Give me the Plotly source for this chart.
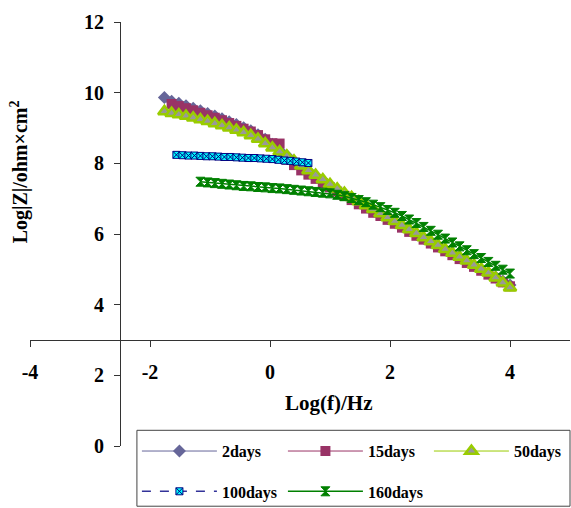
import plotly.graph_objects as go

# Bode modulus data: log frequency (Hz) vs log|Z| (ohm cm^2) after immersion
x_2d = [-1.76, -1.64, -1.52, -1.40, -1.28, -1.16, -1.04, -0.92, -0.80, -0.68,
        -0.56, -0.44, -0.32, -0.20, -0.08, 0.04, 0.16, 0.28, 0.40, 0.52,
        0.64, 0.76, 0.88, 1.00, 1.12, 1.24, 1.36, 1.48, 1.60, 1.72,
        1.84, 1.96, 2.08, 2.20, 2.32, 2.44, 2.56, 2.68, 2.80, 2.92,
        3.04, 3.16, 3.28, 3.40, 3.52, 3.64, 3.76, 3.88, 4.00]
y_2d = [9.86, 9.76, 9.70, 9.63, 9.56, 9.49, 9.41, 9.34, 9.26, 9.18,
        9.10, 9.01, 8.92, 8.81, 8.68, 8.54, 8.36, 8.22, 8.06, 7.92,
        7.78, 7.64, 7.51, 7.38, 7.24, 7.12, 7.00, 6.89, 6.78, 6.66,
        6.55, 6.44, 6.33, 6.22, 6.10, 5.99, 5.88, 5.77, 5.66, 5.55,
        5.44, 5.33, 5.22, 5.11, 5.00, 4.89, 4.78, 4.67, 4.56]

x_15d = [-1.64, -1.52, -1.40, -1.28, -1.16, -1.04, -0.92, -0.80, -0.68,
         -0.56, -0.44, -0.32, -0.20, -0.08, 0.04, 0.16, 0.28, 0.40, 0.52,
         0.64, 0.76, 0.88, 1.00, 1.12, 1.24, 1.36, 1.48, 1.60, 1.72,
         1.84, 1.96, 2.08, 2.20, 2.32, 2.44, 2.56, 2.68, 2.80, 2.92,
         3.04, 3.16, 3.28, 3.40, 3.52, 3.64, 3.76, 3.88, 4.00]
y_15d = [9.68, 9.62, 9.56, 9.50, 9.43, 9.36, 9.29, 9.22, 9.14,
         9.06, 8.98, 8.90, 8.80, 8.68, 8.57, 8.56, 8.10, 7.95, 7.80,
         7.68, 7.56, 7.44, 7.32, 7.20, 7.08, 6.96, 6.84, 6.72, 6.60,
         6.51, 6.40, 6.29, 6.18, 6.06, 5.95, 5.84, 5.73, 5.62, 5.51,
         5.40, 5.29, 5.18, 5.07, 4.96, 4.85, 4.74, 4.63, 4.52]

x_50d = [-1.76, -1.64, -1.52, -1.40, -1.28, -1.16, -1.04, -0.92, -0.80, -0.68,
         -0.56, -0.44, -0.32, -0.20, -0.08, 0.04, 0.16, 0.28, 0.40, 0.52,
         0.64, 0.76, 0.88, 1.00, 1.12, 1.24, 1.36, 1.48, 1.60, 1.72,
         1.84, 1.96, 2.08, 2.20, 2.32, 2.44, 2.56, 2.68, 2.80, 2.92,
         3.04, 3.16, 3.28, 3.40, 3.52, 3.64, 3.76, 3.88, 4.00]
y_50d = [9.47, 9.42, 9.38, 9.34, 9.29, 9.24, 9.19, 9.13, 9.07, 9.01,
         8.94, 8.87, 8.79, 8.69, 8.56, 8.44, 8.33, 8.21, 8.07, 7.93,
         7.80, 7.67, 7.54, 7.41, 7.28, 7.16, 7.04, 6.92, 6.81, 6.70,
         6.58, 6.47, 6.36, 6.25, 6.13, 6.02, 5.90, 5.79, 5.68, 5.57,
         5.46, 5.35, 5.24, 5.12, 5.01, 4.90, 4.76, 4.62, 4.48]

x_100d = [-1.56, -1.46, -1.36, -1.26, -1.16, -1.06, -0.96, -0.86, -0.76, -0.66,
          -0.56, -0.46, -0.36, -0.26, -0.16, -0.06, 0.04, 0.14, 0.24, 0.34,
          0.44, 0.54, 0.64]
y_100d = [8.24, 8.23, 8.22, 8.22, 8.21, 8.20, 8.20, 8.19, 8.18, 8.18,
          8.17, 8.16, 8.15, 8.15, 8.14, 8.13, 8.12, 8.10, 8.08, 8.07,
          8.05, 8.03, 8.01]

x_160d = [-1.16, -1.04, -0.92, -0.80, -0.68, -0.56, -0.44, -0.32, -0.20, -0.08,
          0.04, 0.16, 0.28, 0.40, 0.52, 0.64, 0.76, 0.88, 1.00, 1.12,
          1.24, 1.36, 1.48, 1.60, 1.72, 1.84, 1.96, 2.08, 2.20, 2.32,
          2.44, 2.56, 2.68, 2.80, 2.92, 3.04, 3.16, 3.28, 3.40, 3.52,
          3.64, 3.76, 3.88, 4.00]
y_160d = [7.48, 7.46, 7.44, 7.42, 7.40, 7.38, 7.36, 7.35, 7.33, 7.32,
          7.30, 7.29, 7.27, 7.25, 7.23, 7.21, 7.19, 7.17, 7.15, 7.11,
          7.07, 7.02, 6.96, 6.90, 6.83, 6.76, 6.68, 6.60, 6.51, 6.41,
          6.31, 6.20, 6.09, 5.98, 5.87, 5.76, 5.65, 5.54, 5.43, 5.32,
          5.21, 5.10, 4.99, 4.88]

x_ticks = [-4, -2, 0, 2, 4]
x_tick_labels = ["-4", "-2", "0", "2", "4"]
y_ticks = [0, 2, 4, 6, 8, 10, 12]
y_tick_labels = ["0", "2", "4", "6", "8", "10", "12"]

SERIF = "Liberation Serif, Times New Roman, serif"
AXIS_COLOR = "#333333"

X_RANGE = [-4, 5]
Y_RANGE = [0, 12]
X_CROSS = 3.0    # x axis crosses the y axis at log|Z| = 3
Y_CROSS = -2.5   # y axis crosses the x axis at log f = -2.5

series = [
    dict(name="2days", x=x_2d, y=y_2d, legend="legend",
         line=dict(color="#666699", width=1),
         marker=dict(symbol="diamond", size=10, color="#666699")),
    dict(name="15days", x=x_15d, y=y_15d, legend="legend",
         line=dict(color="#993366", width=1),
         marker=dict(symbol="square", size=10, color="#993366")),
    dict(name="50days", x=x_50d, y=y_50d, legend="legend",
         line=dict(color="#99CC00", width=1),
         marker=dict(symbol="triangle-up", size=11, color="#999999",
                     line=dict(color="#99CC00", width=2.5))),
    dict(name="100days", x=x_100d, y=y_100d, legend="legend2",
         line=dict(color="#333399", width=1.5, dash="dash"),
         marker=dict(symbol="square-x", size=7, color="#00FFFF",
                     line=dict(color="#000080", width=1))),
    dict(name="160days", x=x_160d, y=y_160d, legend="legend2",
         line=dict(color="#008000", width=1.5),
         marker=dict(symbol="hourglass", size=9, color="#008000",
                     line=dict(color="#008000", width=1))),
]

fig = go.Figure()
for s in series:
    fig.add_trace(go.Scatter(x=s["x"], y=s["y"], name=s["name"],
                             mode="lines+markers", line=s["line"],
                             marker=s["marker"], legend=s["legend"]))

tick_font = dict(family=SERIF, size=20, color="black", weight="bold")
legend_font = dict(family=SERIF, size=16, color="black", weight="bold")
legend_common = dict(orientation="h", xanchor="left", yanchor="top",
                     entrywidth=56, entrywidthmode="pixels", itemwidth=75,
                     bgcolor="rgba(0,0,0,0)", borderwidth=0, font=legend_font)

fig.update_layout(
    width=571, height=508,
    margin=dict(l=30, r=1, t=22, b=62, autoexpand=False),
    paper_bgcolor="white", plot_bgcolor="white",
    xaxis=dict(range=X_RANGE, tickvals=x_ticks, ticktext=x_tick_labels,
               showgrid=False, zeroline=False, showline=True,
               linecolor=AXIS_COLOR, linewidth=1, ticks="outside",
               ticklen=6, tickcolor=AXIS_COLOR, tickfont=tick_font,
               ticklabelstandoff=8, anchor="free",
               position=(X_CROSS - Y_RANGE[0]) / (Y_RANGE[1] - Y_RANGE[0])),
    yaxis=dict(range=Y_RANGE, tickvals=y_ticks, ticktext=y_tick_labels,
               showgrid=False, zeroline=False, showline=True,
               linecolor=AXIS_COLOR, linewidth=1, ticks="outside",
               ticklen=6, tickcolor=AXIS_COLOR, tickfont=tick_font,
               ticklabelstandoff=6, anchor="free",
               position=(Y_CROSS - X_RANGE[0]) / (X_RANGE[1] - X_RANGE[0])),
    legend=dict(x=0.198, y=0.028, **legend_common),
    legend2=dict(x=0.198, y=-0.067, **legend_common),
    showlegend=True,
)

# legend frame
fig.add_shape(type="rect", xref="paper", yref="paper",
              x0=0.198, x1=1.0, y0=0.037, y1=-0.142,
              line=dict(color="#444444", width=1), fillcolor="rgba(0,0,0,0)",
              layer="below")

fig.add_annotation(text="Log(f)/Hz", xref="paper", yref="paper",
                   x=0.552, y=0.101, xanchor="center", yanchor="middle",
                   showarrow=False,
                   font=dict(family=SERIF, size=21, color="black", weight="bold"))
fig.add_annotation(text="Log|Z|/ohm×cm<sup>2</sup>", xref="paper", yref="paper",
                   x=-0.02, y=0.646, xanchor="center", yanchor="middle",
                   textangle=-90, showarrow=False,
                   font=dict(family=SERIF, size=20, color="black", weight="bold"))

fig.write_html("out.html")
